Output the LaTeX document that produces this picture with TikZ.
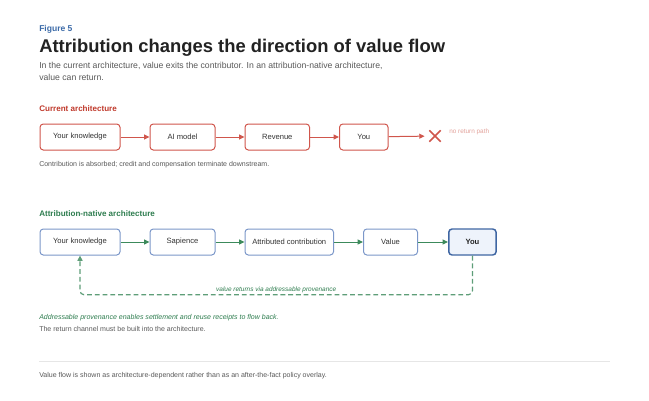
\documentclass[tikz,border=0pt]{standalone}
\usepackage{fontspec}
\setmainfont{Liberation Sans}
\usetikzlibrary{positioning,arrows.meta,shapes.misc}
\definecolor{figblue}{HTML}{3B6AA8}
\definecolor{titlegray}{HTML}{222222}
\definecolor{subgray}{HTML}{595959}
\definecolor{boxtext}{HTML}{333333}
\definecolor{curred}{HTML}{C0392B}
\definecolor{redline}{HTML}{D0564C}
\definecolor{redsoft}{HTML}{E3A29B}
\definecolor{natgreen}{HTML}{2E7D4F}
\definecolor{greenline}{HTML}{3C8A5B}
\definecolor{greendash}{HTML}{5E9E78}
\definecolor{blueline}{HTML}{7B97C9}
\definecolor{youline}{HTML}{3F66A3}
\definecolor{youfill}{HTML}{EEF3FB}
\definecolor{rulegray}{HTML}{E6E6E6}
\tikzset{
    flowbox/.style={
           rectangle,
           rounded corners=2.5pt,
           line width=0.75pt,
           minimum height=19.5pt,
           inner sep=2pt,
           text centered,
           text=boxtext,
           font=\fontsize{5.7}{7}\selectfont,
           },
    redbox/.style={flowbox, draw=redline},
    bluebox/.style={flowbox, draw=blueline},
    youbox/.style={flowbox, draw=youline, fill=youfill, line width=1.1pt,
           font=\fontsize{5.7}{7}\selectfont\bfseries, text=titlegray},
    redarrow/.style={-{Triangle[length=4pt,width=3.6pt]}, draw=redline, line width=0.75pt},
    greenarrow/.style={-{Triangle[length=4pt,width=3.6pt]}, draw=greenline, line width=0.75pt},
    returnpath/.style={-{Triangle[length=4pt,width=3.8pt]}, draw=greendash, line width=0.9pt,
           dash pattern=on 3.6pt off 2.2pt, rounded corners=3pt},
    plain/.style={inner sep=0pt, anchor=base west},
}

\begin{document}
\begin{tikzpicture}[x=0.75pt,y=-0.75pt]
 \useasboundingbox[fill=white] (0,0) rectangle (649,400);

 % heading block
 \node[plain, text=figblue, font=\fontsize{6.4}{8}\selectfont\bfseries] (figno) at (39,31) {Figure 5};
 \node[plain, text=titlegray, font=\fontsize{13.8}{16}\selectfont\bfseries] (title) at (39,52)
  {Attribution changes the direction of value flow};
 \node[plain, text=subgray, font=\fontsize{6.5}{9}\selectfont] (sub1) at (39,68.5)
  {In the current architecture, value exits the contributor. In an attribution-native architecture,};
 \node[plain, text=subgray, font=\fontsize{6.5}{9}\selectfont] (sub2) at (39,80.5) {value can return.};

 % current architecture
 \node[plain, text=curred, font=\fontsize{6.05}{8}\selectfont\bfseries] (curhead) at (39,111) {Current architecture};
 \node[redbox, minimum width=60pt, anchor=north west] (know1) at (39.5,123.5) {Your knowledge};
 \node[redbox, minimum width=48.75pt, right=21.75pt of know1] (model) {AI model};
 \node[redbox, minimum width=48.4pt, right=21.75pt of model] (revenue) {Revenue};
 \node[redbox, minimum width=36.4pt, right=21.75pt of revenue] (you1) {You};
 \node[cross out, draw=redline, line width=1.1pt, minimum size=7.5pt, inner sep=0pt] (stop) at (435,136) {};
 \node[plain, text=redsoft, font=\fontsize{4.8}{6}\selectfont] (noreturn) at (449,133) {no return path};
 \node[plain, text=subgray, font=\fontsize{5.27}{7}\selectfont] (curnote) at (39,166)
  {Contribution is absorbed; credit and compensation terminate downstream.};

 \draw[redarrow] (know1) -- (model);
 \draw[redarrow] (model) -- (revenue);
 \draw[redarrow] (revenue) -- (you1);
 \draw[redarrow, shorten >=3.5pt] (you1) -- (stop);

 % attribution-native architecture
 \node[plain, text=natgreen, font=\fontsize{6.05}{8}\selectfont\bfseries] (nathead) at (39,216)
  {Attribution-native architecture};
 \node[bluebox, minimum width=60pt, anchor=north west] (know2) at (39.5,228.5) {Your knowledge};
 \node[bluebox, minimum width=48.75pt, right=21.75pt of know2] (sapience) {Sapience};
 \node[bluebox, minimum width=66.4pt, right=21.75pt of sapience] (attrib) {Attributed contribution};
 \node[bluebox, minimum width=40.5pt, right=21.75pt of attrib] (value) {Value};
 \node[youbox, minimum width=35.5pt, right=22.5pt of value] (you2) {You};

 \draw[greenarrow] (know2) -- (sapience);
 \draw[greenarrow] (sapience) -- (attrib);
 \draw[greenarrow] (attrib) -- (value);
 \draw[greenarrow] (value) -- (you2);

 % the return channel
 \draw[returnpath] (you2.south) -- ++(0,39) -| (know2.south)
  node[pos=0.25, above=0.6pt, text=natgreen, font=\fontsize{4.85}{6}\selectfont\itshape, inner sep=0pt] (retlabel)
  {value returns via addressable provenance};

 \node[plain, text=natgreen, font=\fontsize{5.27}{7}\selectfont\itshape] (natnote) at (39,319)
  {Addressable provenance enables settlement and reuse receipts to flow back.};
 \node[plain, text=subgray, font=\fontsize{5.27}{7}\selectfont] (natnote2) at (39,331)
  {The return channel must be built into the architecture.};

 % footer
 \draw[rulegray, line width=0.75pt] (39,361) -- (610,361);
 \node[plain, text=subgray, font=\fontsize{5.27}{7}\selectfont] (footer) at (39,377)
  {Value flow is shown as architecture-dependent rather than as an after-the-fact policy overlay.};

\end{tikzpicture}
\end{document}
